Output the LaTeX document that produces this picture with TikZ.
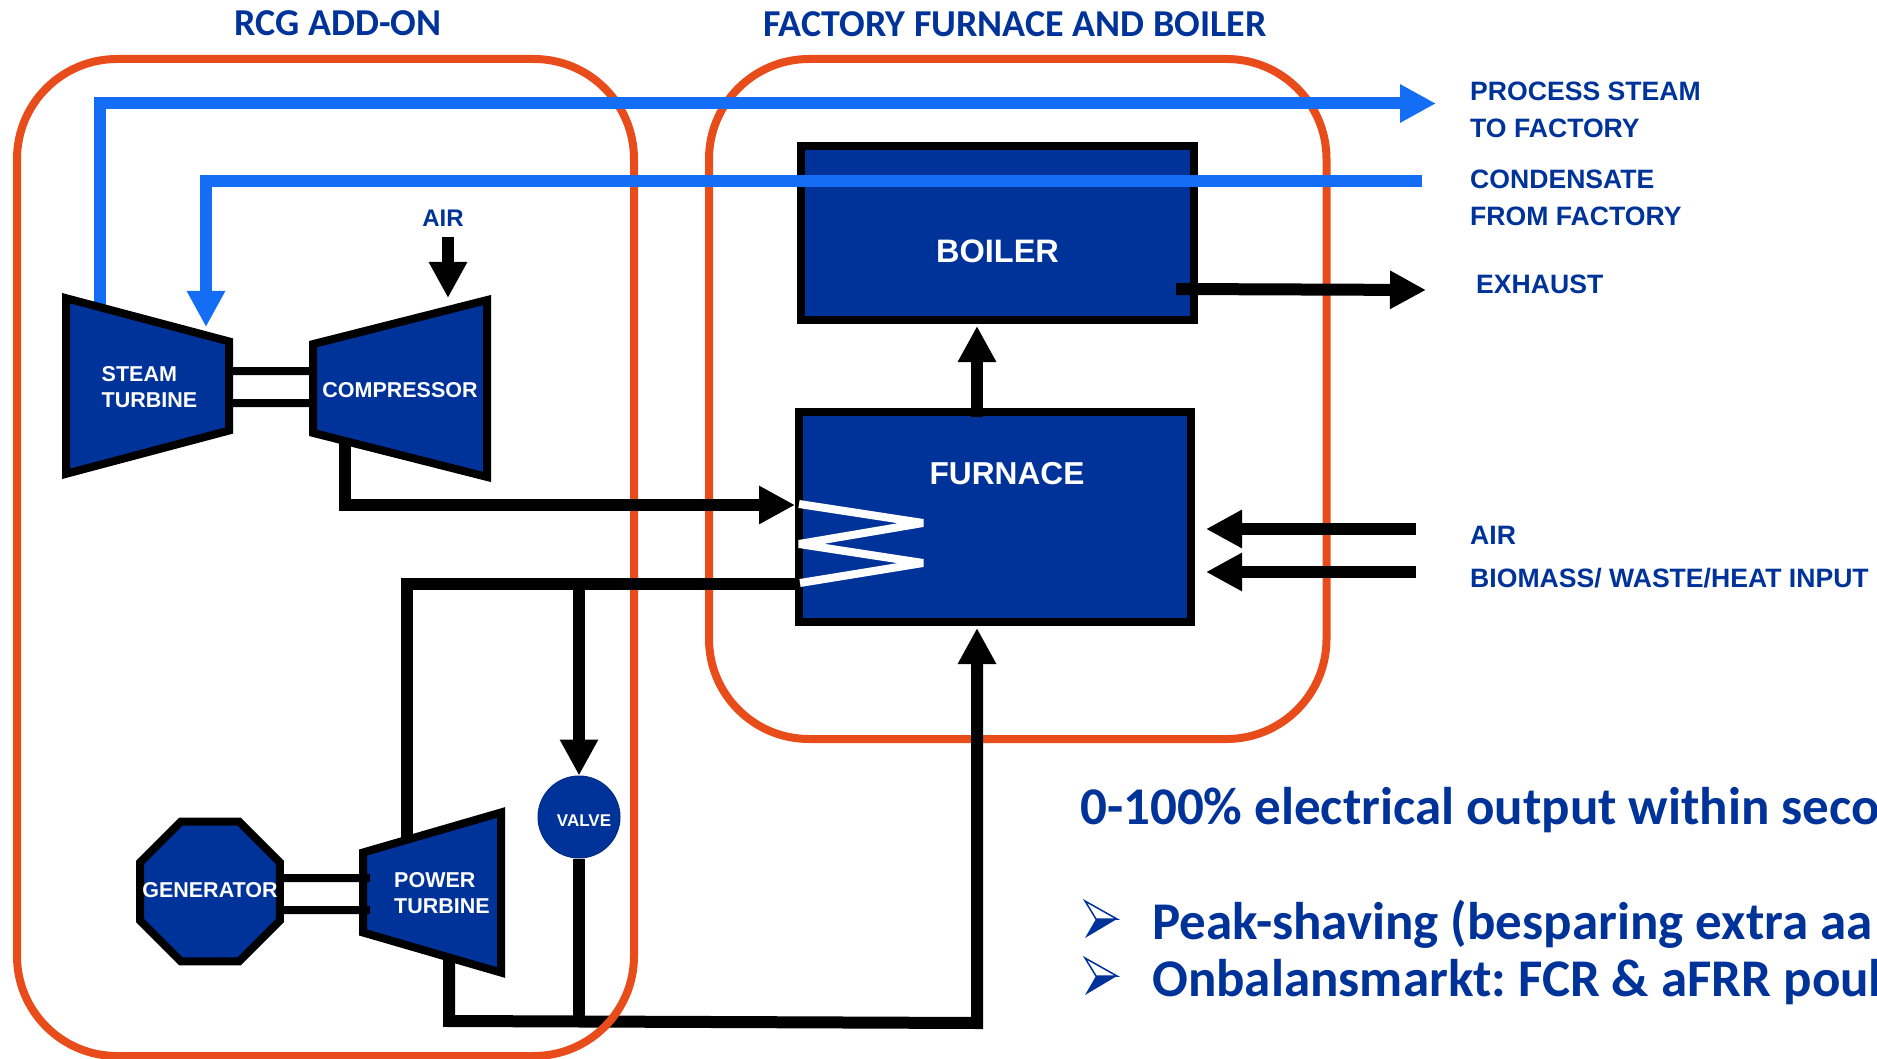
\documentclass[tikz,border=0pt]{standalone}
\usepackage{fontspec}
\usepackage{xcolor}
\setmainfont{Liberation Sans}
\newfontfamily\slidefont{Carlito}
\usetikzlibrary{shapes.geometric, arrows.meta}
\definecolor{plantblue}{HTML}{00339A}
\definecolor{steamblue}{HTML}{146EF5}
\definecolor{zonered}{HTML}{E84C1B}

\begin{document}
\frenchspacing
\begin{tikzpicture}[
        x=1pt, y=-1pt,
        zone/.style={draw=zonered, line width=8pt, rounded corners=100pt},
        unit/.style={draw=black, fill=plantblue, line width=8pt, inner sep=0pt, outer sep=0pt},
        vessel/.style={unit, rectangle},
        turbine/.style={unit, trapezium, trapezium stretches=true, text width=1pt, text height=1pt, text depth=0pt},
        tag/.style={text=white, align=left, font=\bfseries\fontsize{21.5}{26}\selectfont},
        pipe/.style={draw=black, line width=12pt},
        flow/.style={pipe, -{Triangle[length=36pt,width=36pt]}},
        steam/.style={draw=steamblue, line width=12pt},
        steamflow/.style={steam, -{Triangle[length=36pt,width=36pt]}},
        shaft/.style={draw=black, line width=8pt},
        heading/.style={text=plantblue, font=\slidefont\bfseries\fontsize{38}{44}\selectfont},
        side/.style={text=plantblue, font=\bfseries\fontsize{26.6}{37}\selectfont, anchor=west, align=left, inner sep=0pt},
        big/.style={text=plantblue, font=\slidefont\bfseries\fontsize{53}{60}\selectfont, anchor=west, inner sep=0pt}
    ]
        \useasboundingbox (0,0) rectangle (1877,1059);

        % Zones and the lower pipe run between them
        \coordinate (powerout) at (449,956);
        \coordinate (furnacein) at (977,628);
        \draw[zone] (709,59) rectangle (1326.5,739);
        \draw[flow] (powerout) -- (449,1021) -- (977,1023) -- (furnacein);
        \draw[zone] (17,59) rectangle (634,1056);

        % Steam leaves the turbine casing
        \coordinate (steamstart) at (100,310);
        \coordinate (steamtip) at (1436,103.5);
        \draw[steamflow] (steamstart) |- (steamtip);

        % Machines
        \node[turbine, shape border rotate=270, trapezium angle=64.1, minimum width=175.6pt, minimum height=163pt,
            label={[tag, xshift=2pt, yshift=-1pt]center:STEAM\\TURBINE}] (steamturbine) at (147.5,386) {};
        \node[turbine, shape border rotate=90, trapezium angle=63.6, minimum width=176.8pt, minimum height=174pt,
            label={[tag, yshift=-2pt]center:COMPRESSOR}] (compressor) at (400,388.5) {};
        \node[turbine, shape border rotate=90, trapezium angle=63.4, minimum width=160pt, minimum height=138pt,
            label={[tag, xshift=10pt, yshift=-1pt]center:POWER\\TURBINE}] (powerturbine) at (432,892.5) {};
        \node[unit, regular polygon, regular polygon sides=8, minimum size=151.5pt,
            label={[tag, yshift=1.5pt]center:GENERATOR}] (generator) at (210,891.5) {};
        \node[circle, fill=plantblue, draw=plantblue!85!black, line width=1pt, minimum size=82pt, inner sep=0pt,
            label={[tag, font=\bfseries\fontsize{17}{20}\selectfont, xshift=5pt, yshift=-4pt]center:VALVE}] (valve) at (579,817) {};
        \node[vessel, minimum width=393pt, minimum height=174pt,
            label={[tag, font=\bfseries\fontsize{32.5}{38}\selectfont, yshift=-18pt]center:BOILER}] (boiler) at (997.5,233) {};
        \node[vessel, minimum width=392pt, minimum height=210pt,
            label={[tag, font=\bfseries\fontsize{31.7}{36}\selectfont, xshift=12pt, yshift=43pt]center:FURNACE}] (furnace) at (995,517) {};

        % Heating coil
        \coordinate (coilin) at (795,505);
        \coordinate (coilout) at (795,584);
        \draw[white, line width=8pt, line join=bevel] (799,504) -- (923,523) -- (799,544) -- (923,563) -- (800,583);

        % Shafts
        \draw[shaft] ([yshift=15pt]steamturbine.east) -- ([yshift=17.5pt]compressor.west);
        \draw[shaft] ([yshift=-17pt]steamturbine.east) -- ([yshift=-14.5pt]compressor.west);
        \draw[shaft] ([yshift=13.5pt]generator.east) -- ([xshift=7pt, yshift=14.5pt]powerturbine.west);
        \draw[shaft] ([yshift=-18.5pt]generator.east) -- ([xshift=7pt, yshift=-17.5pt]powerturbine.west);

        % Gas path
        \coordinate (airtop) at (448,237);
        \coordinate (airtip) at (448,298);
        \coordinate (compout) at (345,439);
        \coordinate (powerin) at (406.5,840);
        \coordinate (valvein) at (579,584);
        \coordinate (bottomjoin) at (579,1021);
        \draw[flow] (airtop) -- (airtip);
        \draw[flow] (compout) |- (coilin);
        \draw[pipe] (coilout) -| (powerin);
        \draw[flow] (valvein) -- (valve.north);
        \draw[pipe] (valve.south) -- (bottomjoin);

        % Furnace to boiler and exhaust
        \coordinate (boilerout) at (977,417);
        \coordinate (boilerin) at (977,326);
        \coordinate (exhauststart) at (1176,289);
        \coordinate (exhausttip) at (1426,290);
        \draw[flow] (boilerout) -- (boilerin);
        \draw[flow] (exhauststart) -- (exhausttip);

        % Fuel and air to the furnace
        \coordinate (airstart) at (1416,529);
        \coordinate (airend) at (1206,529);
        \coordinate (fuelstart) at (1416,572);
        \coordinate (fuelend) at (1206,572);
        \draw[flow] (airstart) -- (airend);
        \draw[flow] (fuelstart) -- (fuelend);

        % Condensate return
        \coordinate (condstart) at (1422,181);
        \coordinate (condtip) at (206,327);
        \draw[steamflow] (condstart) -| (condtip);

        % Labels
        \node[heading] (addonlabel) at (338,23) {RCG ADD-ON};
        \node[heading] (factorylabel) at (1015,24) {FACTORY FURNACE AND BOILER};
        \node[text=plantblue, font=\bfseries\fontsize{24}{28}\selectfont] (airlabel) at (443,218) {AIR};
        \node[side] (steamlabel) at (1470,110) {PROCESS STEAM\\TO FACTORY};
        \node[side] (condlabel) at (1470,198) {CONDENSATE\\FROM FACTORY};
        \node[side] (exhaustlabel) at (1476,284) {EXHAUST};
        \node[side] (airinlabel) at (1470,535) {AIR};
        \node[side] (fuellabel) at (1470,578) {BIOMASS/ WASTE/HEAT INPUT};

        % Summary
        \node[big] (outputline) at (1080,810) {0-100\% electrical output within seco};
        \node[big] (peakline) at (1152,924) {Peak-shaving (besparing extra aa};
        \node[big] (marketline) at (1152,982) {Onbalansmarkt: FCR \& aFRR poul};
        \foreach \by in {901,958} {
            \fill[plantblue] (1085,\by+37) -- (1096,\by+18) -- (1117,\by+18) -- cycle;
            \draw[plantblue, line width=1.5pt] (1085,\by) -- (1117,\by+18) -- (1096,\by+18) -- cycle;
        }
    \end{tikzpicture}
\end{document}
